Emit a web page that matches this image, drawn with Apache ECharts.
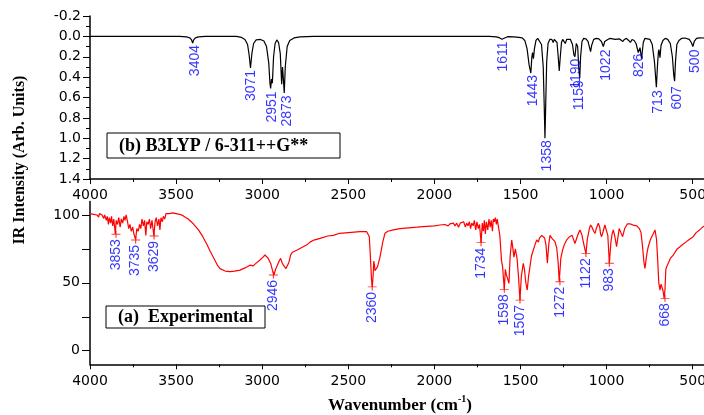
<!DOCTYPE html>
<html><head><meta charset="utf-8">
<script src="https://cdn.jsdelivr.net/npm/echarts@6/dist/echarts.min.js"></script>
<style>html,body{margin:0;padding:0;background:#fff}#c{width:704px;height:415px}</style>
</head><body><div id="c"></div>
<script>
// ---- tick values ----
const xTicks = [4000, 3500, 3000, 2500, 2000, 1500, 1000, 500];
const yTopTicks = [-0.2, 0.0, 0.2, 0.4, 0.6, 0.8, 1.0, 1.2, 1.4];
const yBottomTicks = [0, 50, 100];
const yBottomMinorTicks = [0, 25, 50, 75, 100];

// ---- (b) calculated spectrum: [wavenumber, intensity] ----
const calcSpectrum = [
[4000,0],[3480,0],[3440,0.005],[3420,0.015],[3410,0.035],[3404,0.065],[3398,0.035],[3388,0.015],[3370,0.005],[3330,0],
[3150,0],[3120,0.01],[3100,0.03],[3085,0.08],[3076,0.18],[3068,0.31],[3060,0.17],[3050,0.07],[3035,0.035],[3010,0.03],
[2990,0.045],[2975,0.1],[2962,0.26],[2955,0.46],[2951,0.51],[2946,0.42],[2941,0.46],[2934,0.2],[2925,0.07],[2915,0.035],
[2905,0.06],[2895,0.17],[2887,0.47],[2882,0.3],[2877,0.42],[2872,0.555],[2866,0.3],[2855,0.1],[2840,0.04],[2815,0.015],[2780,0.005],[2700,0],
[1680,0],[1640,0.005],[1625,0.012],[1615,0.03],[1608,0.028],[1598,0.01],[1575,0.003],[1540,0.005],[1510,0.01],[1490,0.015],
[1475,0.04],[1462,0.12],[1450,0.28],[1440,0.36],[1434,0.2],[1430,0.16],[1425,0.22],[1419,0.12],[1410,0.04],[1400,0.02],
[1390,0.03],[1378,0.08],[1368,0.3],[1362,0.7],[1358,1.0],[1354,0.7],[1348,0.25],[1340,0.07],[1330,0.03],[1318,0.03],
[1310,0.06],[1304,0.03],[1296,0.02],[1288,0.06],[1281,0.2],[1275,0.34],[1269,0.2],[1262,0.06],[1255,0.03],[1248,0.04],
[1240,0.07],[1232,0.03],[1222,0.02],[1210,0.03],[1198,0.08],[1190,0.18],[1184,0.2],[1176,0.07],[1168,0.1],[1162,0.3],
[1156,0.41],[1151,0.2],[1143,0.05],[1133,0.02],[1120,0.025],[1108,0.05],[1099,0.11],[1093,0.15],[1087,0.09],[1075,0.03],
[1060,0.02],[1045,0.025],[1030,0.05],[1019,0.1],[1011,0.05],[1002,0.06],[993,0.03],[980,0.02],[965,0.025],[950,0.03],
[940,0.02],[925,0.025],[915,0.04],[905,0.05],[897,0.03],[885,0.02],[872,0.04],[862,0.06],[852,0.03],[840,0.04],
[829,0.07],[816,0.16],[806,0.11],[797,0.22],[787,0.06],[778,0.02],[767,0.016],[748,0.03],[735,0.08],[722,0.25],
[711,0.5],[705,0.3],[699,0.15],[696,0.13],[690,0.21],[684,0.09],[673,0.04],[660,0.02],[645,0.03],[630,0.07],
[618,0.2],[610,0.38],[605,0.44],[600,0.25],[592,0.08],[580,0.04],[565,0.02],[545,0.016],[520,0.03],[508,0.06],
[499,0.1],[491,0.05],[478,0.02],[460,0.015],[439,0.016],[420,0.01]
];

// ---- (a) experimental spectrum: [wavenumber, transmittance] ----
const expSpectrum = [
[4000,101],[3980,100.5],[3960,100],[3950,98.5],[3945,101],[3930,100],[3920,97.5],[3915,100],[3905,96],[3900,99],
[3893,93],[3888,98],[3880,94],[3875,99],[3868,92],[3862,97],[3853,86],[3848,96],[3840,93],[3833,98],
[3825,91],[3818,97],[3810,94],[3803,99],[3797,96],[3790,100],[3782,95],[3775,90],[3768,93],[3760,88],
[3752,91],[3745,86],[3735,82],[3728,90],[3720,88],[3712,93],[3705,90],[3698,97],[3690,92],[3683,96],
[3676,85],[3670,95],[3662,93],[3655,97],[3648,90],[3640,96],[3629,84.5],[3622,95],[3615,98],[3608,92],
[3600,97],[3594,89],[3588,98],[3580,95],[3574,99],[3566,97],[3559,101],[3550,102],[3540,101],[3530,102],
[3520,101.5],[3500,101],[3480,100.5],[3460,99.5],[3430,97],[3400,93.5],[3370,89],[3345,84],[3320,78],[3303,73.5],
[3280,68],[3260,63],[3245,60.5],[3215,58.7],[3187,58.2],[3160,58.6],[3129,59.4],[3100,61],[3071,63],[3062,63.4],
[3052,62.5],[3040,64],[3013,66.8],[2995,69],[2984,70.5],[2975,69.5],[2965,68],[2958,68.5],[2950,64],[2940,59],
[2932,55.8],[2922,60],[2912,63],[2900,66.5],[2893,68],[2885,65],[2877,63],[2870,63.5],[2862,60.5],[2854,59.4],
[2845,65],[2835,70.5],[2825,72.5],[2800,74],[2770,76],[2740,78],[2722,80],[2700,81.5],[2664,82.8],[2620,84.5],
[2587,85],[2550,86.5],[2500,87],[2432,87.7],[2393,87.7],[2385,87],[2378,84],[2372,70],[2365,52],[2361,47],
[2356,55],[2352,66],[2348,63],[2345,59],[2340,58],[2330,62],[2316,69],[2300,80],[2287,86.5],[2270,88],
[2239,89],[2200,90],[2150,90.5],[2100,91],[2065,91.4],[2000,92],[1968,92.6],[1940,93],[1920,92],[1910,93.5],
[1900,92.5],[1890,94],[1880,92],[1870,94],[1860,91],[1850,94],[1840,93],[1830,95],[1820,91],[1813,94],
[1805,92],[1797,95],[1790,90],[1783,94],[1775,92],[1768,96],[1760,89],[1753,95],[1745,90],[1738,93],
[1729,79.6],[1722,94],[1716,88],[1710,96],[1704,86],[1698,95],[1690,89],[1683,97],[1676,91],[1670,96],
[1663,88],[1658,97],[1652,95],[1646,98],[1640,93],[1635,97],[1629,96],[1620,85],[1610,66],[1604,62],
[1600,55],[1594,45.2],[1588,60],[1582,56],[1575,55],[1567,49.6],[1560,70],[1551,81.6],[1545,76],[1538,69],
[1530,75],[1520,68],[1512,55],[1503,37.3],[1495,55],[1484,64.4],[1477,60],[1470,50.8],[1461,44.7],[1453,55],
[1445,62],[1436,70],[1426,74],[1416,78],[1406,81.6],[1396,80],[1390,83],[1384,82],[1377,85],[1368,84],
[1360,83],[1352,78],[1344,64.4],[1336,78],[1329,85],[1318,83],[1310,82],[1300,80.3],[1290,76],[1282,66],
[1275,50.8],[1266,68],[1256,74],[1246,78],[1232,81.6],[1215,84],[1200,85],[1193,85],[1184,79],[1174,78],
[1165,86],[1155,89],[1145,86],[1135,80],[1128,76],[1120,71.7],[1112,82],[1100,90],[1093,92.6],[1085,91],
[1075,88],[1067,86.5],[1060,90],[1048,93.9],[1040,91],[1035,86],[1029,84],[1020,88],[1010,92.6],[1000,92],
[993,85],[984,64.4],[975,80],[968,86],[961,89],[952,84],[942,76.6],[935,83],[927,90],[917,87],
[907,84],[895,90],[880,93.4],[865,93.5],[845,92.5],[825,92],[810,90],[800,87],[790,75],[783,65],
[777,60.7],[770,68],[764,73],[758,76.6],[745,82],[730,86],[719,89],[710,82],[703,66],[697,50],
[690,44.7],[684,49],[678,48],[672,44],[666,38.6],[661,45],[656,60],[651,61.9],[640,65],[630,68],
[613,70.5],[600,73],[590,75],[574,76.6],[560,78],[540,80],[520,82],[497,84],[480,87],[460,89],
[439,91.4],[420,92]
];

// ---- peak labels: [text, wavenumber position, value] ----
const calcLabels = [
['3404',3392,0.065],['3071',3062,0.31],['2951',2940,0.52],['2873',2858,0.56],['1611',1598,0.03],
['1443',1426,0.36],['1358',1348,1.0],['1190',1178,0.2],['1159',1161,0.41],['1022',1004,0.11],
['826',812,0.15],['713',700,0.51],['607',593,0.47],['500',487,0.11]
];
const expLabels = [
['3853',3849,85.8],['3735',3735,81.6],['3629',3628,84.5],['2946',2935,55.8],['2360',2361,47],
['1734',1729,79.6],['1598',1594,45.2],['1507',1503,37.3],['1272',1271,50.8],['1122',1120,71.7],
['983',984,64.4],['668',661,38.6]
];

const tickFont = {fontFamily:'DejaVu Sans', fontSize:14, color:'#000'};
const axisLineStyle = {show:true, onZero:false, lineStyle:{color:'#000', width:1.5}};
const peakLabel = {
  show:true, position:'bottom', distance:2, rotate:90, align:'right', verticalAlign:'middle',
  color:'#0000ff', fontFamily:'Liberation Sans', fontSize:14,
  formatter: p => p.data[2]
};
const xAxisBase = (gi, margin) => ({
  gridIndex:gi, type:'value', min:0, max:4000, interval:500, inverse:true,
  axisLine:axisLineStyle, axisTick:{show:true, length:5, lineStyle:{color:'#000'}},
  minorTick:{show:true, splitNumber:2, length:3, lineStyle:{color:'#000'}},
  splitLine:{show:false}, minorSplitLine:{show:false},
  axisLabel:Object.assign({margin:margin, formatter:v => String(v)}, tickFont)
});

const chart = echarts.init(document.getElementById('c'));
chart.setOption({
  animation:false,
  backgroundColor:'#fff',
  grid:[
    {left:90, top:16, height:163, width:688.8, containLabel:false, outerBoundsMode:'none'},
    {left:90, top:201.4, height:162.9, width:688.8, containLabel:false, outerBoundsMode:'none'}
  ],
  xAxis:[ xAxisBase(0, 9), xAxisBase(1, 10) ],
  yAxis:[
    {gridIndex:0, type:'value', min:-0.2, max:1.4, interval:0.2, inverse:true,
     axisLine:axisLineStyle,
     axisTick:{show:true, length:7, lineStyle:{color:'#000'}},
     minorTick:{show:true, splitNumber:2, length:4, lineStyle:{color:'#000'}},
     splitLine:{show:false}, minorSplitLine:{show:false},
     axisLabel:Object.assign({margin:9, formatter:v => (Math.abs(v)<1e-9?0:v).toFixed(1)}, tickFont)},
    {gridIndex:1, type:'value', min:-10, max:110,
     axisLine:axisLineStyle,
     axisTick:{show:true, length:8, customValues:yBottomMinorTicks, lineStyle:{color:'#000'}},
     splitLine:{show:false},
     axisLabel:Object.assign({margin:10, customValues:yBottomTicks}, tickFont)}
  ],
  series:[
    {type:'line', xAxisIndex:0, yAxisIndex:0, data:calcSpectrum, showSymbol:false, symbol:'none',
     lineStyle:{color:'#000', width:1.2}, z:3},
    {type:'line', xAxisIndex:1, yAxisIndex:1, data:expSpectrum, showSymbol:false, symbol:'none',
     lineStyle:{color:'#ff0000', width:1.2}, z:3},
    {type:'scatter', xAxisIndex:0, yAxisIndex:0, data:calcLabels.map(d=>[d[1],d[2],d[0]]),
     symbolSize:0, itemStyle:{color:'rgba(0,0,0,0)'}, label:peakLabel, z:5},
    {type:'scatter', xAxisIndex:1, yAxisIndex:1, data:expLabels.map(d=>[d[1],d[2],d[0]]),
     symbol:'path://M0,4L8,4M4,0L4,8', symbolSize:[9,7],
     itemStyle:{color:'rgba(0,0,0,0)', borderColor:'#ff0000', borderWidth:1},
     label:Object.assign({}, peakLabel, {distance:1}), z:5}
  ],
  graphic:[
    {type:'rect', shape:{x:107, y:133, width:233, height:25},
     style:{fill:'#fff', stroke:'#000', lineWidth:1}, z:10},
    {type:'text', x:119, y:146, z:11,
     style:{text:'(b) B3LYP / 6-311++G**', font:'bold 18px "Liberation Serif"', fill:'#000', verticalAlign:'middle'}},
    {type:'rect', shape:{x:106, y:306, width:159, height:22},
     style:{fill:'#fff', stroke:'#000', lineWidth:1}, z:10},
    {type:'text', x:118, y:317.5, z:11,
     style:{text:'(a)  Experimental', font:'bold 18px "Liberation Serif"', fill:'#000', verticalAlign:'middle'}},
    {type:'text', x:20, y:160, rotation:Math.PI/2, z:11,
     style:{text:'IR Intensity (Arb. Units)', font:'bold 16px "Liberation Serif"', fill:'#000', align:'center', verticalAlign:'middle'}},
    {type:'text', x:400, y:404, z:11,
     style:{text:'{a|Wavenumber (cm}{s|-1}{a|)}', align:'center', verticalAlign:'middle',
       rich:{a:{font:'bold 17px "Liberation Serif"', fill:'#000', lineHeight:20, verticalAlign:'bottom'},
             s:{font:'bold 10px "Liberation Serif"', fill:'#000', lineHeight:20, verticalAlign:'top'}}}}
  ]
});
</script>
</body></html>
